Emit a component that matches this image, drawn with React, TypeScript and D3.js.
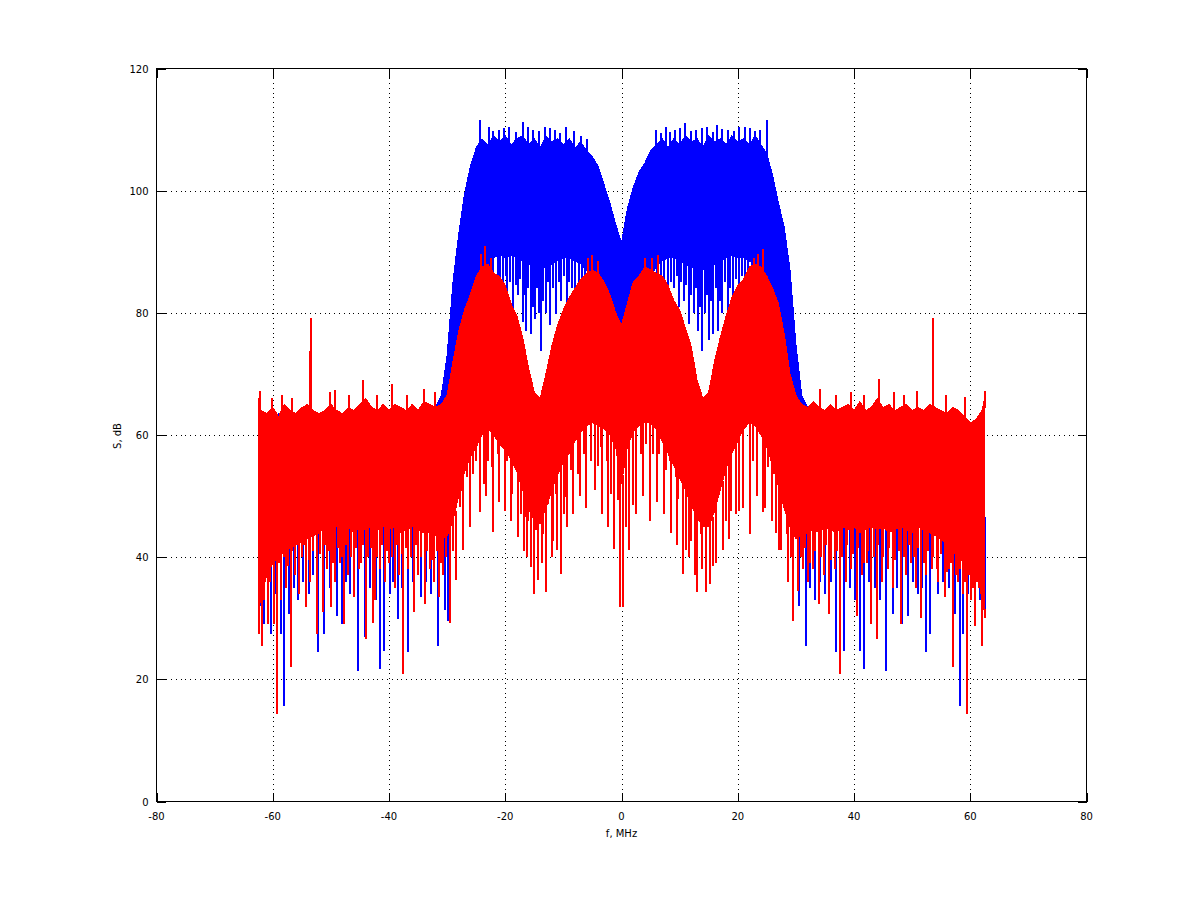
import * as d3 from "d3";

// frequency grid, MHz (1 MHz bins plus the two band edges)
const freqMHz = [-62.5, ...d3.range(-62, 63), 62.5];

// reference channel (blue): dense upper / lower edge of the trace per bin, dB
const blueTop = [
  64,
  63, 63, 62.5, 63.5, 63, 62.5, 63, 63, 62.5, 63,
  63.5, 63, 62.5, 63, 63, 63.5, 63, 62.5, 63, 63.5,
  63, 63, 62.5, 63, 63.5, 63, 63, 63.5, 63, 64,
  64.5, 66.5, 73, 85, 93, 99.5, 104, 107, 108.5, 107.5,
  109, 108, 109, 107.5, 108.5, 109, 107.5, 108.5, 107, 109,
  108, 108.5, 107.5, 108.5, 107, 108, 106.5, 105.5, 104, 101,
  98, 94.5, 91.5, 97, 100.5, 103, 104.5, 106.5, 107.5, 108.5,
  107, 108.5, 107.5, 109, 108, 108.5, 107, 109, 108, 108.5,
  107.5, 109, 108, 108.5, 107.5, 109, 107.5, 106, 102.5, 98,
  94, 87, 75, 66.5, 64.5, 64, 63, 63.5, 63, 62.5,
  63, 63.5, 63, 63, 62.5, 63, 63.5, 63, 63, 62.5,
  63, 63.5, 63, 62.5, 63, 63, 63.5, 63, 62.5, 62,
  61.5, 61, 60.5, 61, 62,
  63,
];
const blueBottom = [
  45,
  45, 45, 45, 45, 45, 45, 45, 45, 45, 45,
  45, 45, 45, 45, 45, 45, 45, 45, 45, 45,
  45, 45, 45, 45, 45, 45, 45, 45, 45, 45,
  45, 45, 48, 54, 62, 70, 77, 82, 86, 88,
  89, 89.5, 89, 89.5, 89, 88.5, 88, 87.5, 87, 87.5,
  88, 88.5, 89, 89, 88.5, 88, 87, 85.5, 84, 82,
  80, 78.5, 77.5, 79, 81, 82.5, 84, 86, 87.5, 88.5,
  89, 89, 88.5, 88, 87.5, 87, 87, 87.5, 88, 88.5,
  89, 89.5, 89, 89, 88.5, 88, 86.5, 83, 78, 71,
  63, 55, 48, 45, 45, 45, 45, 45, 45, 45,
  45, 45, 45, 45, 45, 45, 45, 45, 45, 45,
  45, 45, 45, 45, 45, 45, 45, 45, 45, 45,
  45, 45, 45, 45, 45,
  45,
];

// filtered channel (red)
const redTop = [
  66,
  64, 63.5, 64.5, 63, 65, 64, 63.5, 64.5, 65, 64,
  63.5, 64, 65, 64, 63.5, 64.5, 64, 65, 66, 64.5,
  64, 65, 64, 65, 64.5, 64, 65, 64, 65.5, 65,
  64.5, 65, 66.5, 72, 77, 80.5, 83, 86, 87.5, 88,
  86.5, 86, 84.5, 81.5, 79.5, 76, 71, 67, 66, 70,
  74.5, 78, 80.5, 82.5, 84, 85.5, 86.5, 87, 86.5, 85,
  83, 80, 78, 81.5, 85, 86, 87.5, 87, 86.5, 86,
  84.5, 82, 80.5, 77.5, 74.5, 69, 66, 67, 72, 76,
  79.5, 82.5, 84.5, 85.5, 87.5, 88, 87.5, 86, 84, 81.5,
  76.5, 70, 66.5, 65, 64.5, 65.5, 64.5, 64, 65, 64,
  64.5, 65, 64, 65.5, 64, 64.5, 66, 64.5, 65, 64,
  64.5, 65, 64, 64.5, 64, 65, 64.5, 64, 63.5, 64.5,
  64, 63, 62, 62.5, 64,
  66,
];
const redBottom = [
  30,
  34, 37, 39, 40, 41, 41.5, 42, 42.5, 43, 43.5,
  44, 45, 44.5, 45, 44.5, 45, 44, 45, 44.5, 45,
  44.5, 45, 44.5, 45, 44, 44.5, 45, 44.5, 44, 44,
  43.5, 43, 43.5, 46, 50, 54, 56.5, 58, 60, 61,
  60, 58.5, 57.5, 56, 54, 51, 48, 46, 45.5, 48,
  51, 53.5, 55.5, 57, 59, 60.5, 61.5, 62, 61.5, 61,
  60, 58, 52, 58, 60.5, 61.5, 62, 62, 61, 59,
  57, 55, 53, 51, 48.5, 46.5, 45, 45, 47.5, 51,
  54.5, 57, 59, 61, 62, 61.5, 60, 58, 55, 51.5,
  48, 45, 43, 43.5, 44, 44.5, 44, 45, 44.5, 44,
  45, 44.5, 45, 44, 44.5, 45, 44.5, 45, 44, 44.5,
  45, 44.5, 44, 45, 44.5, 44, 43.5, 43, 42, 41,
  40, 39, 38, 37, 35,
  30,
];

// isolated spikes: [frequency MHz, level dB]
const blueDownSpikes: [number, number][] = [
  [-62.3, 32], [-61.6, 29], [-60.5, 27.4], [-59.8, 34], [-58.8, 27.4], [-58.2, 15.7],
  [-57.4, 30.7], [-56.6, 35], [-55.8, 33], [-55, 36], [-54, 34], [-53.2, 37],
  [-52.4, 24.4], [-51.4, 27.4], [-50.4, 35], [-49.2, 30.4], [-48.3, 29], [-47.5, 36],
  [-46.8, 34], [-45.5, 21.4], [-44.3, 26.9], [-43.5, 35], [-42.4, 33], [-41.7, 21.7],
  [-41.0, 24.7], [-40.0, 34], [-39.4, 36], [-38.7, 29.9], [-37.9, 35], [-36.9, 24.4],
  [-36.0, 36], [-34.7, 33.4], [-33.8, 36], [-33.0, 34], [-31.7, 25.5], [-30.6, 31.3],
  [-30.0, 29.6],
  [-24.3, 84], [-23.6, 81], [-22.9, 85], [-22.3, 82], [-21.5, 82.6], [-21.0, 85.5],
  [-20.6, 84], [-20.1, 86], [-19.8, 82.5], [-19.3, 85], [-18.8, 80], [-18.4, 84.5],
  [-18.0, 83], [-17.6, 85.5], [-17.2, 78.5], [-16.9, 83], [-16.6, 77.1], [-16.2, 84],
  [-15.8, 76.6], [-15.4, 81], [-15.1, 79], [-14.7, 84], [-14.3, 80], [-14.0, 73.8],
  [-13.6, 82], [-13.2, 80], [-12.8, 85], [-12.4, 78], [-11.9, 84], [-11.5, 79.8],
  [-11.0, 85], [-10.6, 82], [-10.1, 86], [-9.6, 81], [-9.2, 85], [-8.7, 84],
  [-8.1, 80.5], [-7.5, 82.5], [-7.0, 85], [-6.4, 83], [-5.8, 84], [-5.1, 81.5],
  [-4.4, 80], [-3.7, 79.5], [-2.9, 78.5],
  [3.2, 80], [3.9, 80.5], [4.6, 82], [5.3, 81], [6.0, 84], [6.6, 83], [7.2, 85.5],
  [7.8, 81.5], [8.3, 85], [8.8, 84], [9.3, 86], [9.7, 81], [10.1, 85], [10.5, 82],
  [11.0, 84.5], [11.4, 78.2], [11.8, 83], [12.3, 80], [12.7, 84], [13.0, 77],
  [13.4, 81], [13.7, 73.8], [14.2, 80], [14.6, 83], [14.9, 75.5], [15.2, 82],
  [15.5, 76.6], [16.0, 84], [16.4, 77.1], [16.8, 82], [17.2, 80], [17.7, 85],
  [18.1, 78.5], [18.5, 84], [19.0, 82], [19.5, 85.5], [20.0, 83], [20.5, 86],
  [21.1, 81.5], [21.6, 85], [22.2, 84], [22.8, 82], [23.5, 85], [24.2, 83],
  [30.4, 32], [31.5, 25.5], [32.2, 35], [33.1, 33], [34, 36], [34.8, 34], [35.8, 36],
  [36.7, 24.4], [38.1, 24.7], [39.2, 35], [40.0, 33], [40.8, 24.7], [41.5, 21.7],
  [42.4, 36], [43.5, 35], [44.3, 33], [45.3, 21.4], [46.5, 30.7], [47.2, 35], [48.0, 29],
  [49.1, 30.4], [50.0, 36], [50.8, 34], [51.5, 35], [52.2, 24.4], [52.9, 27.4], [54.3, 34],
  [55.2, 36], [56.2, 35], [57.2, 30.7], [58.0, 15.7], [58.6, 27.4], [59.5, 34], [60.7, 28.8],
  [61.5, 33], [62.3, 31],
];
const blueUpSpikes: [number, number][] = [
  [-24.6, 111.5], [-23.0, 110.5], [-21.3, 110], [-19.5, 110.5], [-17.1, 111.2],
  [-15.4, 110], [-13.3, 110.5], [-11.6, 110], [-9.8, 110.5], [-8.3, 109.8],
  [-22.2, 109.8], [-20.4, 110.3], [-18.3, 109.6], [-16.2, 110.4], [-14.4, 109.7],
  [-12.5, 110.2], [-10.7, 109.5], [-7.2, 109], [-6.1, 108.5],
  [5.8, 110], [7.4, 110.5], [9.1, 110], [10.8, 111], [12.7, 110], [14.6, 110.5],
  [16.3, 110.8], [18.2, 110], [20.1, 110.5], [21.9, 110.2], [23.7, 110], [24.8, 111.5],
  [6.6, 109.5], [8.2, 109.6], [9.9, 110.3], [11.8, 109.7], [13.6, 110.2], [15.5, 109.6],
  [17.2, 110.1], [19.1, 109.7], [21.0, 110.4], [22.8, 109.8],
  [-45, 65], [48.5, 66],
];
const redDownSpikes: [number, number][] = [
  [-62.5, 27.4], [-62.1, 25.5], [-61.6, 33], [-61, 29], [-60, 29], [-59.5, 14.3],
  [-58.7, 33], [-57.9, 35], [-57.1, 22], [-56.3, 37], [-55.6, 34], [-54.5, 31.8],
  [-53.7, 36], [-52.5, 27.4], [-51.6, 31], [-50.8, 38], [-50.2, 31.8], [-49.4, 36],
  [-48.6, 39], [-47.9, 29], [-47.2, 37], [-46.2, 33.4], [-45.3, 38], [-44.2, 26.6],
  [-43.0, 29.3], [-42.6, 33], [-41.8, 38], [-40.9, 36], [-40.1, 39], [-39.2, 35],
  [-38.4, 37], [-37.7, 20.9], [-36.9, 38], [-35.8, 31], [-35.1, 37], [-34.0, 32.4],
  [-33.2, 38], [-32.4, 36], [-31.5, 33.4], [-30.8, 37], [-29.7, 29.3], [-28.7, 36.2],
  // ragged lower edge, left noise floor
  [-61.3, 38], [-60.6, 36], [-59.1, 39], [-58.3, 40], [-57.5, 38.5], [-56.8, 41],
  [-55.2, 40], [-54.8, 42], [-54.0, 39.5], [-53.2, 41], [-52.1, 40.5], [-51.2, 42],
  [-50.5, 41], [-49.8, 39], [-49.0, 41.5], [-48.2, 40], [-47.5, 42], [-46.7, 40],
  [-45.8, 41.5], [-45.0, 39], [-44.6, 42], [-43.7, 40], [-43.3, 41.5], [-42.2, 40],
  [-41.4, 42], [-40.5, 41], [-39.7, 40], [-38.8, 42], [-38.0, 40.5], [-37.3, 41.5],
  [-36.4, 40], [-35.5, 42], [-34.6, 40], [-33.7, 41], [-32.8, 39.5], [-32.0, 41],
  [-31.2, 39], [-30.4, 40], [-29.2, 41],
  // in-band
  [-28.0, 48.2], [-27.6, 50.9], [-27.4, 41.1], [-27.0, 55.8], [-26.7, 53.1], [-26.2, 45],
  [-25.7, 53.6], [-25.2, 55.8], [-24.5, 47.4], [-23.8, 52], [-23.4, 50], [-23.1, 55.8],
  [-22.4, 54.7], [-22.2, 44.1], [-21.5, 56.9], [-21.3, 49], [-20.8, 59.1], [-20.2, 47.6],
  [-19.8, 55.8], [-19.1, 46], [-19.0, 50.4], [-18.3, 54.7], [-18.0, 43.3], [-17.5, 47.1],
  [-17.0, 41], [-16.8, 46.5], [-16.4, 40], [-16.3, 46], [-15.8, 38.4], [-15.3, 34],
  [-14.9, 44.4], [-14.5, 36.2], [-13.8, 39], [-13.7, 43.8], [-13.1, 34.3], [-12.9, 48.7],
  [-12.2, 40], [-11.9, 42.7], [-11.5, 50.4], [-11.3, 41.1], [-10.6, 37.3], [-10.1, 47],
  [-9.7, 49.8], [-9.6, 45], [-8.9, 54.2], [-8.5, 47], [-7.7, 53.6], [-7.3, 50],
  [-6.6, 56.9], [-6.2, 48], [-5.4, 55.8], [-4.8, 51], [-4.2, 55], [-3.7, 58], [-3.6, 47],
  [-2.6, 55.8], [-2.5, 45], [-2.0, 50.4], [-1.4, 41.4], [-0.8, 49.3], [-0.4, 31.8],
  [0.05, 31.8], [0.6, 45], [1.2, 41.1], [1.75, 48.5], [2.3, 55.8], [2.4, 47], [3.2, 56.9],
  [3.6, 50], [4.05, 58.6], [4.8, 46], [5.3, 56.9], [6.0, 49], [6.3, 56.9], [7.2, 47],
  [7.4, 54.2], [8.1, 55.8], [8.4, 44], [9.2, 53.1], [9.4, 42], [9.6, 49.5], [10.4, 37.3],
  [10.9, 41.1], [11.5, 40], [11.8, 42.7], [12.5, 37], [12.8, 34.3], [13.5, 43.8],
  [13.6, 38], [14.3, 34.3], [15.1, 35.6], [15.5, 38.6], [16.0, 39], [16.1, 43.8],
  [17.3, 41.1], [17.8, 46], [18.4, 43], [18.7, 47.6], [19.6, 47], [20.0, 47.6],
  [20.7, 55.8], [20.8, 48], [22.0, 43.8], [22.4, 55.8], [23.2, 50], [24.1, 47.4],
  [24.5, 48], [25.0, 54.7], [25.7, 46], [25.9, 53.6], [26.4, 44], [27.0, 41.1],
  [27.2, 41.1], [28.3, 43.8], [28.5, 35.9], [29.0, 40], [29.4, 29.6], [30.2, 34.5],
  // ragged lower edge, right noise floor
  [30.7, 40], [31.4, 41.5], [32.3, 39], [33.2, 41], [34.1, 40], [35.0, 42], [35.9, 39.5],
  [36.9, 41], [37.8, 40], [38.7, 42], [39.6, 40.5], [40.6, 41.5], [41.5, 39], [42.3, 41],
  [43.2, 40], [44.0, 42], [44.9, 40], [45.9, 41.5], [46.8, 39.5], [47.5, 41], [48.4, 40],
  [49.3, 42], [50.1, 40], [50.9, 41.5], [51.8, 39], [52.6, 41], [53.5, 40], [54.1, 38],
  [54.8, 40.5], [55.8, 37.5], [56.5, 39], [57.4, 37], [58.1, 38], [58.9, 36],
  [59.6, 37], [60.3, 35], [61.0, 36], [61.6, 34],
  [31.0, 38], [31.9, 36], [32.8, 38], [33.8, 32.3], [34.7, 37], [35.6, 30.7], [36.5, 38],
  [37.5, 20.9], [38.4, 36], [39.3, 38], [40.3, 30.4], [41.2, 37], [42.0, 39], [42.8, 29],
  [43.8, 26.6], [44.7, 36], [45.6, 38], [46.5, 35], [47.9, 29], [48.8, 37], [49.7, 39],
  [50.5, 35], [51.4, 30.1], [52.3, 37], [53.2, 38], [54.3, 36], [55.4, 33.4], [56.2, 38],
  [56.9, 22], [57.8, 36], [58.5, 34], [59.2, 14.3], [59.9, 33], [60.7, 28.8], [61.3, 35],
  [61.9, 25.5], [62.4, 30],
];
const redUpSpikes: [number, number][] = [
  [-62.4, 67.2], [-60.3, 66], [-58.5, 66.5], [-56.9, 66], [-53.6, 79.2], [-53.8, 73.8],
  [-50.3, 67], [-49.5, 67.3], [-47, 66.5], [-44.7, 69], [-42.3, 66.5], [-39.6, 68.4],
  [-37.1, 66.5], [-34.1, 67.6], [-32.2, 67], [-24.4, 89.7], [-23.6, 91], [-22.6, 89],
  [-6.0, 89], [-5.2, 89.5], [-4.2, 88.5], [3.8, 89], [5.0, 89], [6.1, 89.5],
  [22.6, 89], [23.3, 89.7], [24.2, 90.5], [33.9, 67.6], [36.7, 66.5], [39.3, 67],
  [41.6, 66.5], [44.2, 69.1], [46.7, 67], [48.5, 66.5], [50.6, 67.2], [53.4, 79.2],
  [55.7, 66.5], [58.9, 66.2], [62.4, 67.2],
];

const xTicks = [-80, -60, -40, -20, 0, 20, 40, 60, 80];
const yTicks = [0, 20, 40, 60, 80, 100, 120];

const W = 1200;
const H = 901;
const plotLeft = 156.5;
const plotRight = 1086.5;
const plotTop = 68.5;
const plotBottom = 801.5;
const font = "'DejaVu Sans', sans-serif";

const Trace = (props: {
  top: number[];
  bottom: number[];
  down: [number, number][];
  up: [number, number][];
  colour: string;
  x: d3.ScaleLinear<number, number>;
  y: d3.ScaleLinear<number, number>;
}) => {
  const { top, bottom, down, up, colour, x, y } = props;
  const area = d3
    .area<number>()
    .x((f) => x(f))
    .y0((_, i) => y(bottom[i]))
    .y1((_, i) => y(top[i]));
  const nearest = (f: number) => d3.minIndex(freqMHz, (g) => Math.abs(g - f));
  const px = (f: number) => Math.round(x(f));
  return (
    <g shapeRendering="crispEdges">
      <path d={area(freqMHz) ?? ""} fill={colour} stroke={colour} strokeWidth={1} />
      {down.map(([f, v], i) => (
        <rect key={`d${i}`} x={px(f)} width={1.6} y={y(bottom[nearest(f)] + 1.5)}
          height={y(v) - y(bottom[nearest(f)] + 1.5)} fill={colour} />
      ))}
      {up.map(([f, v], i) => (
        <rect key={`u${i}`} x={px(f)} width={1.6} y={y(v)}
          height={y(top[nearest(f)] - 1.5) - y(v)} fill={colour} />
      ))}
    </g>
  );
};

export default function App() {
  const x = d3.scaleLinear().domain([-80, 80]).range([plotLeft, plotRight]);
  const y = d3.scaleLinear().domain([0, 120]).range([plotBottom, plotTop]);

  return (
    <svg width={W} height={H} style={{ position: "absolute", left: 0, top: 0, background: "#fff" }}>
      <rect x={0} y={0} width={W} height={H} fill="#fff" />
      {/* grid */}
      <g stroke="#000" strokeWidth={1} strokeDasharray="1,3.8" shapeRendering="crispEdges">
        {xTicks.slice(1, -1).map((t) => (
          <line key={`gx${t}`} x1={Math.round(x(t)) + 0.5} x2={Math.round(x(t)) + 0.5} y1={plotTop} y2={plotBottom} />
        ))}
        {yTicks.slice(1, -1).map((t) => (
          <line key={`gy${t}`} x1={plotLeft} x2={plotRight} y1={Math.round(y(t)) + 0.5} y2={Math.round(y(t)) + 0.5} />
        ))}
      </g>
      <Trace top={blueTop} bottom={blueBottom} down={blueDownSpikes} up={blueUpSpikes} colour="#0000ff" x={x} y={y} />
      <Trace top={redTop} bottom={redBottom} down={redDownSpikes} up={redUpSpikes} colour="#ff0000" x={x} y={y} />
      {/* box and inward ticks */}
      <g stroke="#000" strokeWidth={1} shapeRendering="crispEdges" fill="none">
        <rect x={plotLeft} y={plotTop} width={plotRight - plotLeft} height={plotBottom - plotTop} />
        {xTicks.map((t) => {
          const px = Math.round(x(t)) + 0.5;
          return (
            <g key={`tx${t}`}>
              <line x1={px} x2={px} y1={plotBottom} y2={plotBottom - 9} />
              <line x1={px} x2={px} y1={plotTop} y2={plotTop + 9} />
            </g>
          );
        })}
        {yTicks.map((t) => {
          const py = Math.round(y(t)) + 0.5;
          return (
            <g key={`ty${t}`}>
              <line x1={plotLeft} x2={plotLeft + 9} y1={py} y2={py} />
              <line x1={plotRight} x2={plotRight - 9} y1={py} y2={py} />
            </g>
          );
        })}
      </g>
      <g fontFamily={font} fontSize={10} fill="#000">
        {xTicks.map((t) => (
          <text key={`lx${t}`} x={x(t)} y={plotBottom + 18} textAnchor="middle">{t}</text>
        ))}
        {yTicks.map((t) => (
          <text key={`ly${t}`} x={plotLeft - 8} y={y(t) + 4} textAnchor="end">{t}</text>
        ))}
        <text x={x(0)} y={plotBottom + 35} textAnchor="middle">f, MHz</text>
        <text transform={`translate(121, 436) rotate(-90)`} textAnchor="middle">S, dB</text>
      </g>
    </svg>
  );
}
